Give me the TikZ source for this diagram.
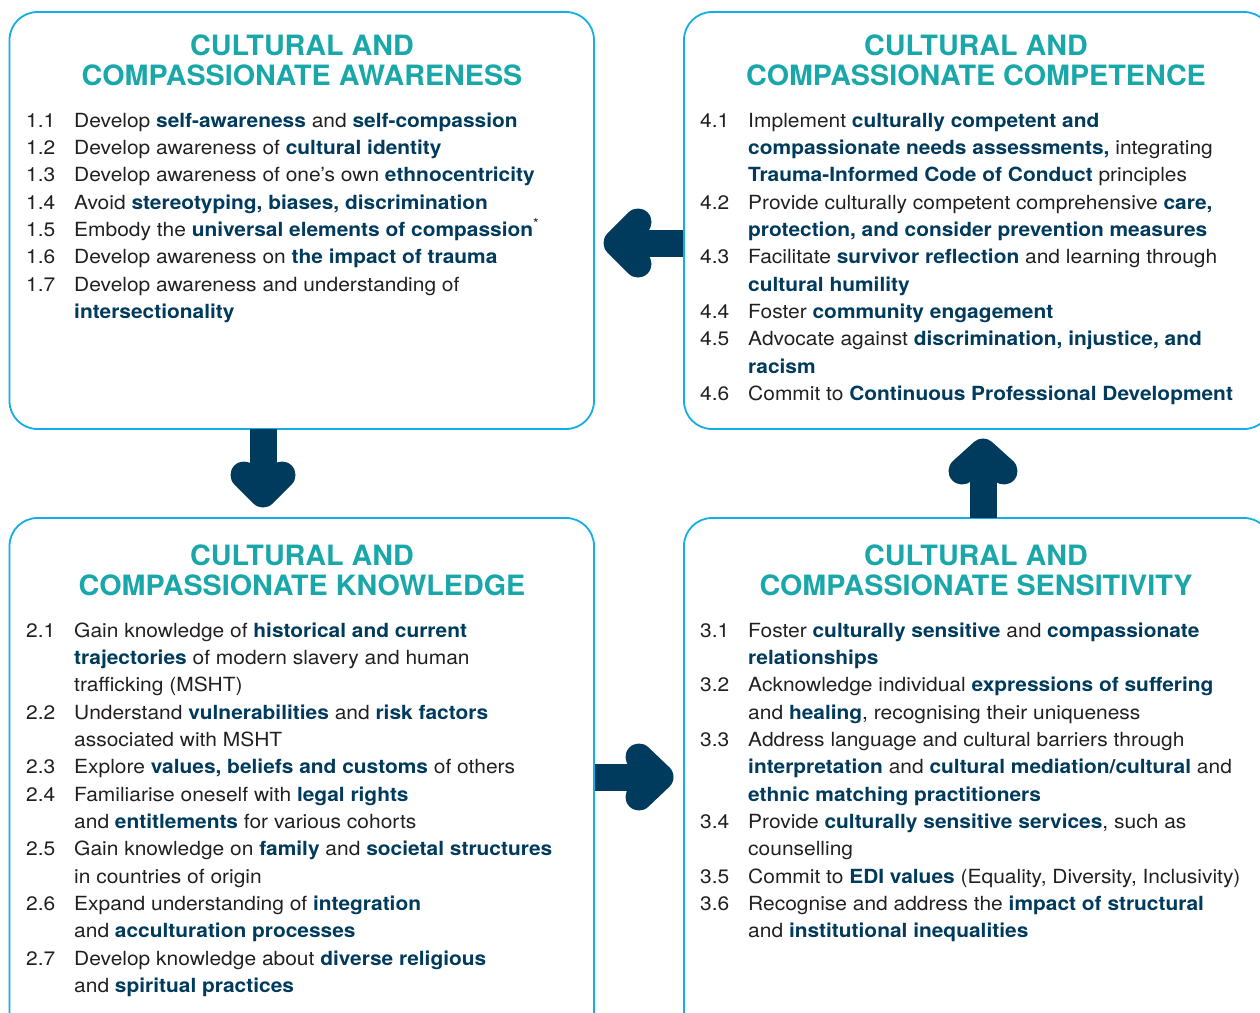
\documentclass[tikz,border=0pt]{standalone}
\usepackage{fontspec}
\setmainfont{TeX Gyre Heros}[FakeStretch=1.075]
\newfontfamily\bfam{TeX Gyre Heros}[FakeStretch=1.072]
\newfontfamily\tfam{TeX Gyre Heros}[FakeStretch=1.025]
\definecolor{bord}{HTML}{12AEE8}
\definecolor{ttlc}{HTML}{1AA7A9}
\definecolor{nav}{HTML}{003A5D}
\definecolor{bodyc}{HTML}{231F20}
\newcommand\B[1]{{\bfam\bfseries\color{nav}#1}}
\newcounter{lnc}
\newcommand\Ln[3]{\stepcounter{lnc}\node[linetxt] (ln\thelnc) at (#1,#2) {#3};}
\tikzset{
  boxshape/.style={draw=bord, line width=1.8pt, rounded corners=28pt},
  ttlnode/.style={text=ttlc, font=\tfam\fontsize{28}{30}\selectfont\bfseries, anchor=base, inner sep=0pt},
  linetxt/.style={anchor=base west, inner sep=0pt, text=bodyc, font=\fontsize{19.5}{23}\selectfont},
  arrshaft/.style={draw=nav, line width=27pt, line cap=butt},
  arrhead/.style={draw=nav, line width=27pt, line cap=round, line join=round},
}
\begin{document}
\begin{tikzpicture}[x=1pt,y=-1pt]
\useasboundingbox (0,0) rectangle (1260,1012);
\clip (0,0) rectangle (1260,1012);
% boxes
\draw[boxshape] (9.5,12) rectangle (594,429);
\draw[boxshape] (684,12) rectangle (1272,429);
\draw[boxshape] (9.5,518) rectangle (594,1045);
\draw[boxshape] (684,518) rectangle (1272,1045);
% titles
\node[ttlnode] (t1a) at (302,55) {CULTURAL AND};
\node[ttlnode] (t1b) at (302,85) {COMPASSIONATE AWARENESS};
\node[ttlnode] (t4a) at (976,55) {CULTURAL AND};
\node[ttlnode] (t4b) at (976,85) {COMPASSIONATE COMPETENCE};
\node[ttlnode] (t2a) at (302,565) {CULTURAL AND};
\node[ttlnode] (t2b) at (302,595) {COMPASSIONATE KNOWLEDGE};
\node[ttlnode] (t3a) at (976,565) {CULTURAL AND};
\node[ttlnode] (t3b) at (976,595) {COMPASSIONATE SENSITIVITY};
% box 1
\Ln{26}{127}{1.1}\Ln{74}{127}{Develop \B{self-awareness} and \B{self-compassion}}
\Ln{26}{154.3}{1.2}\Ln{74}{154.3}{Develop awareness of \B{cultural identity}}
\Ln{26}{181.7}{1.3}\Ln{74}{181.7}{Develop awareness of one’s own \B{ethnocentricity}}
\Ln{26}{209}{1.4}\Ln{74}{209}{Avoid \B{stereotyping, biases, discrimination}}
\Ln{26}{236.3}{1.5}\Ln{74}{236.3}{Embody the \B{universal elements of compassion}\textsuperscript{*}}
\Ln{26}{263.7}{1.6}\Ln{74}{263.7}{Develop awareness on \B{the impact of trauma}}
\Ln{26}{291}{1.7}\Ln{74}{291}{Develop awareness and understanding of}
\Ln{74}{318.3}{\B{intersectionality}}
% box 4
\Ln{700}{127}{4.1}\Ln{748}{127}{Implement \B{culturally competent and}}
\Ln{748}{154.3}{\B{compassionate needs assessments,} integrating}
\Ln{748}{181.7}{\B{Trauma-Informed Code of Conduct} principles}
\Ln{700}{209}{4.2}\Ln{748}{209}{Provide culturally competent comprehensive \B{care,}}
\Ln{748}{236.3}{\B{protection, and consider prevention measures}}
\Ln{700}{263.7}{4.3}\Ln{748}{263.7}{Facilitate \B{survivor reflection} and learning through}
\Ln{748}{291}{\B{cultural humility}}
\Ln{700}{318.3}{4.4}\Ln{748}{318.3}{Foster \B{community engagement}}
\Ln{700}{345.7}{4.5}\Ln{748}{345.7}{Advocate against \B{discrimination, injustice, and}}
\Ln{748}{373}{\B{racism}}
\Ln{700}{400.3}{4.6}\Ln{748}{400.3}{Commit to \B{Continuous Professional Development}}
% box 2
\Ln{26}{637}{2.1}\Ln{74}{637}{Gain knowledge of \B{historical and current}}
\Ln{74}{664.3}{\B{trajectories} of modern slavery and human}
\Ln{74}{691.7}{trafficking (MSHT)}
\Ln{26}{719}{2.2}\Ln{74}{719}{Understand \B{vulnerabilities} and \B{risk factors}}
\Ln{74}{746.3}{associated with MSHT}
\Ln{26}{773.7}{2.3}\Ln{74}{773.7}{Explore \B{values, beliefs and customs} of others}
\Ln{26}{801}{2.4}\Ln{74}{801}{Familiarise oneself with \B{legal rights}}
\Ln{74}{828.3}{and \B{entitlements} for various cohorts}
\Ln{26}{855.7}{2.5}\Ln{74}{855.7}{Gain knowledge on \B{family} and \B{societal structures}}
\Ln{74}{883}{in countries of origin}
\Ln{26}{910.3}{2.6}\Ln{74}{910.3}{Expand understanding of \B{integration}}
\Ln{74}{937.7}{and \B{acculturation processes}}
\Ln{26}{965}{2.7}\Ln{74}{965}{Develop knowledge about \B{diverse religious}}
\Ln{74}{992.3}{and \B{spiritual practices}}
% box 3
\Ln{700}{637}{3.1}\Ln{748}{637}{Foster \B{culturally sensitive} and \B{compassionate}}
\Ln{748}{664.3}{\B{relationships}}
\Ln{700}{691.7}{3.2}\Ln{748}{691.7}{Acknowledge individual \B{expressions of suffering}}
\Ln{748}{719}{and \B{healing}, recognising their uniqueness}
\Ln{700}{746.3}{3.3}\Ln{748}{746.3}{Address language and cultural barriers through}
\Ln{748}{773.7}{\B{interpretation} and \B{cultural mediation/cultural} and}
\Ln{748}{801}{\B{ethnic matching practitioners}}
\Ln{700}{828.3}{3.4}\Ln{748}{828.3}{Provide \B{culturally sensitive services}, such as}
\Ln{748}{855.7}{counselling}
\Ln{700}{883}{3.5}\Ln{748}{883}{Commit to \B{EDI values} (Equality, Diversity, Inclusivity)}
\Ln{700}{910.3}{3.6}\Ln{748}{910.3}{Recognise and address the \B{impact of structural}}
\Ln{748}{937.7}{and \B{institutional inequalities}}
% arrows
% awareness -> knowledge (down)
\coordinate (d0) at (263,429);
\coordinate (d1) at (263,494);
\draw[arrshaft] (d0) -- (263,485);
\draw[arrhead] (244,475) -- (d1) -- (282,475);
% knowledge -> sensitivity (right)
\coordinate (r0) at (595,777);
\coordinate (r1) at (660,777);
\draw[arrshaft] (r0) -- (650,777);
\draw[arrhead] (639,757) -- (r1) -- (639,797);
% sensitivity -> competence (up)
\coordinate (u0) at (983,518);
\coordinate (u1) at (983,452);
\draw[arrshaft] (u0) -- (983,462);
\draw[arrhead] (962,471) -- (u1) -- (1004,471);
% competence -> awareness (left)
\coordinate (l0) at (683,243);
\coordinate (l1) at (617,243);
\draw[arrshaft] (l0) -- (627,243);
\draw[arrhead] (638,222) -- (l1) -- (638,264);
\end{tikzpicture}
\end{document}
